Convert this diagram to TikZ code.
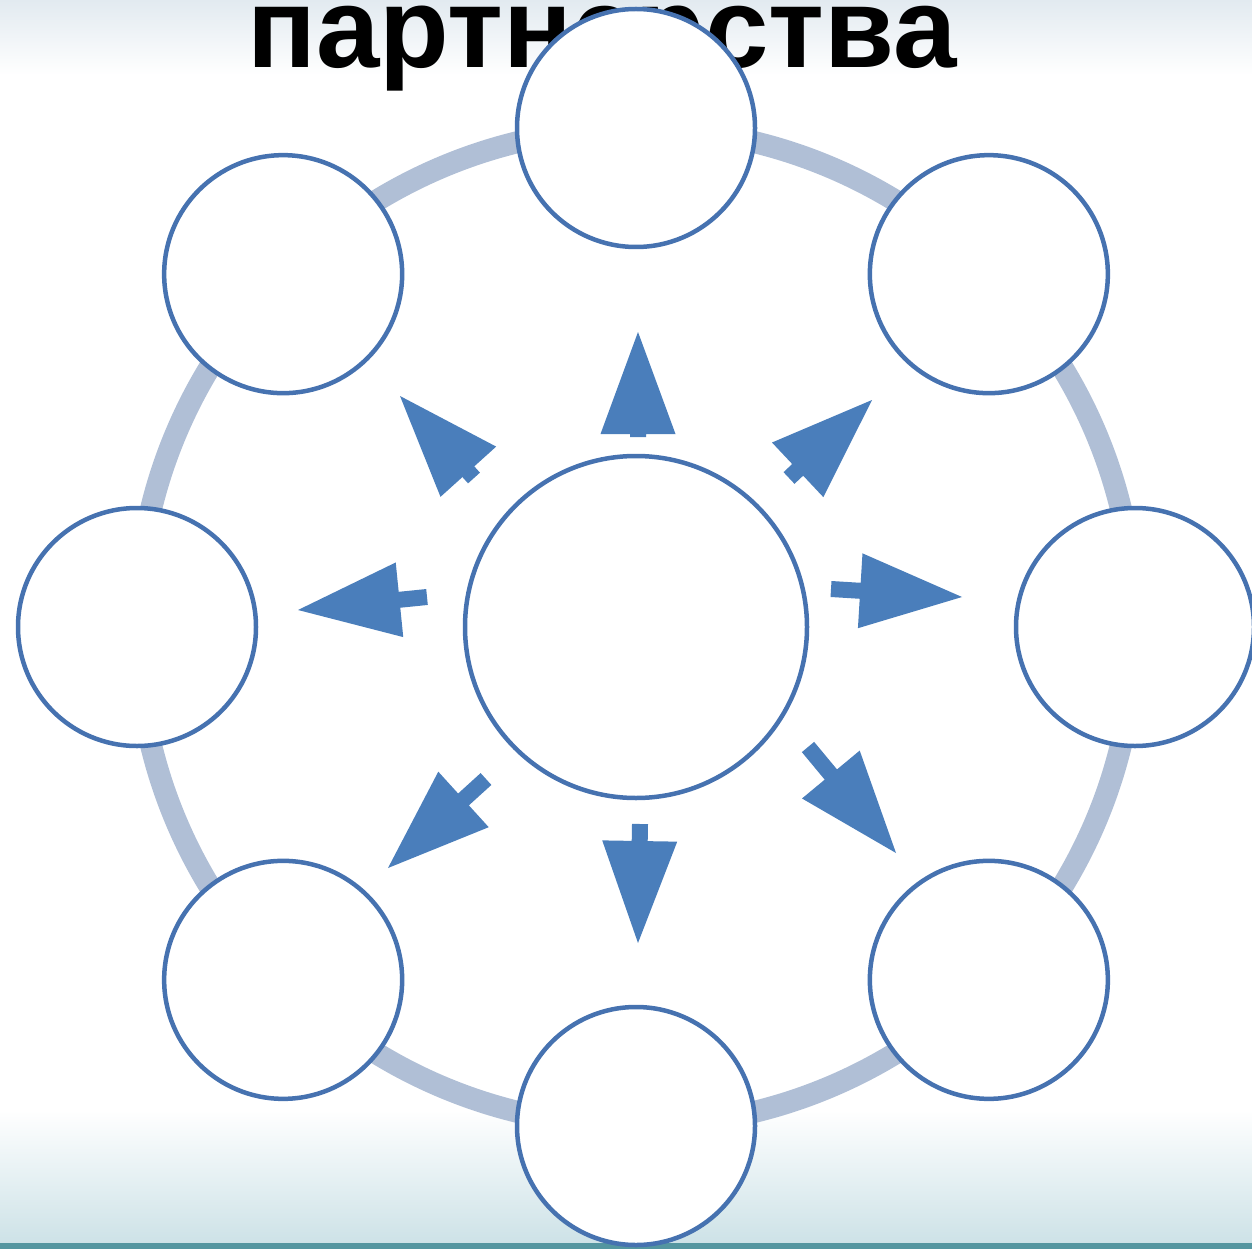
\documentclass[tikz,border=0pt]{standalone}
\usepackage{fontspec}
\setmainfont{Liberation Sans}
\usepackage{xcolor}
\usetikzlibrary{
    calc,
    positioning
}

\definecolor{ringblue}{RGB}{176,191,214}
\definecolor{edgeblue}{RGB}{70,114,176}
\definecolor{spokeblue}{RGB}{74,126,187}
\definecolor{skyhaze}{RGB}{226,234,240}
\definecolor{frostcyan}{RGB}{205,226,231}
\definecolor{tealline}{RGB}{84,150,160}

\tikzset{
    member/.style={circle, draw=edgeblue, line width=4.5pt, fill=white,
        minimum size=238pt, inner sep=0pt},
    hub/.style={member, minimum size=342pt},
    ring/.style={draw=ringblue, line width=22pt},
    spoke/.style={fill=spokeblue}
}

% arrow from #1 (end of shaft) to #2 (tip)
\newcommand{\spokearrow}[2]{%
    \coordinate (b) at ($(#2)!102pt!(#1)$);
    \fill[spoke] ($(#1)!8pt!90:(#2)$) -- ($(b)!8pt!90:(#2)$)
        -- ($(b)!37.5pt!90:(#2)$) -- (#2) -- ($(b)!37.5pt!-90:(#2)$)
        -- ($(b)!8pt!-90:(#2)$) -- ($(#1)!8pt!-90:(#2)$) -- cycle;
}

\begin{document}
\begin{tikzpicture}[x=1pt, y=-1pt]
    \useasboundingbox (0,0) rectangle (1252,1249);
    \clip (0,0) rectangle (1252,1249);
    % background
    \shade[top color=skyhaze, bottom color=white] (0,0) rectangle (1252,75);
    \shade[top color=white, bottom color=frostcyan] (0,1110) rectangle (1252,1243);
    \fill[tealline] (0,1243) rectangle (1252,1249);

    \node[font=\bfseries\fontsize{114}{114}\selectfont, anchor=base] (title) at (602,68) {партнерства};

    \node[hub] (hub) at (636,627) {};
    \draw[ring] (hub.center) circle[radius=499];
    \foreach \a [count=\i] in {-90,-45,...,225}{
        \node[member] (m\i) at ($(hub.center)+(\a:499)$) {};
    }

    \foreach \sx/\sy/\tx/\ty in {638/437/638/332, 789/478/872/400, 831/589/962/597,
        808/747/896/853, 640/824/638/943, 486/779/388/868, 427/597/298/610, 474/478/400/396}{
        \coordinate (s) at (\sx,\sy);
        \coordinate (t) at (\tx,\ty);
        \spokearrow{s}{t}
    }
\end{tikzpicture}
\end{document}
